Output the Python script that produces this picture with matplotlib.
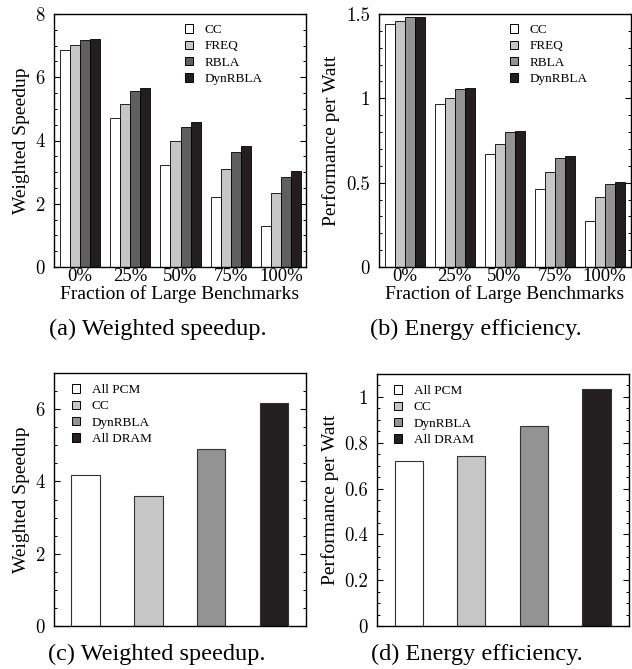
import matplotlib
matplotlib.use("Agg")
import matplotlib.pyplot as plt
import numpy as np
from matplotlib.patches import Patch
from matplotlib.ticker import MultipleLocator

plt.rcParams['font.family'] = ['Liberation Serif', 'DejaVu Serif']

# ---- data ----
fractions = ['0%', '25%', '50%', '75%', '100%']
schemes_top = ['CC', 'FREQ', 'RBLA', 'DynRBLA']
ws_cc = [6.86, 4.70, 3.24, 2.22, 1.31]
ws_freq = [7.02, 5.16, 3.99, 3.10, 2.35]
ws_rbla = [7.19, 5.56, 4.44, 3.65, 2.84]
ws_dyn = [7.22, 5.66, 4.57, 3.83, 3.03]

ppw_cc = [1.441, 0.964, 0.667, 0.461, 0.275]
ppw_freq = [1.457, 1.003, 0.732, 0.562, 0.414]
ppw_rbla = [1.480, 1.055, 0.803, 0.645, 0.495]
ppw_dyn = [1.484, 1.061, 0.807, 0.657, 0.505]

configs = ['All PCM', 'CC', 'DynRBLA', 'All DRAM']
ws_configs = [4.18, 3.60, 4.90, 6.18]
ppw_configs = [0.722, 0.741, 0.873, 1.035]

captions = ['(a) Weighted speedup.', '(b) Energy efficiency.',
            '(c) Weighted speedup.', '(d) Energy efficiency.']

# ---- style ----
W, H = 632, 669
fig = plt.figure(figsize=(W / 100, H / 100), dpi=100)

def ax_rect(l, r, t, b):
    return [l / W, (H - b) / H, (r - l) / W, (b - t) / H]

white = '#ffffff'
light = '#c6c6c6'
dark_a = '#5f5f5f'
mid = '#939393'
black = '#231f20'

YTICK_FS = 13.5
XTICK_FS = 13.5
LABEL_FS = 14
LEG_FS = 9.5
CAP_FS = 17.5

def style_axes(ax, ymax, major, minor, fmt):
    ax.set_ylim(0, ymax)
    ax.yaxis.set_minor_locator(MultipleLocator(minor))
    ax.tick_params(axis='y', which='both', direction='in', left=True, right=True,
                   labelsize=YTICK_FS, pad=6.5)
    ax.tick_params(axis='y', which='major', length=4, width=0.8)
    ax.tick_params(axis='y', which='minor', length=2.5, width=0.7)
    ax.tick_params(axis='x', which='both', length=0, labelsize=XTICK_FS, pad=1)
    ticks = [t for t in np.arange(0, ymax + 1e-9, major)]
    ax.set_yticks(ticks)
    ax.set_yticklabels([fmt(t) for t in ticks], fontfamily='cmr10')
    for s in ax.spines.values():
        s.set_linewidth(1.0)

def fmt_int(t):
    return '%d' % round(t)

def fmt_half(t):
    return ('%d' % round(t)) if abs(t - round(t)) < 1e-9 else ('%.1f' % t)

def legend(ax, labels, colors, x, y):
    handles = [Patch(facecolor=c, edgecolor='black', linewidth=0.7) for c in colors]
    ax.legend(handles, labels, loc='upper left', bbox_to_anchor=(x, y),
              frameon=False, fontsize=LEG_FS, handlelength=0.6, handleheight=0.6,
              handletextpad=0.9, labelspacing=0.33, borderaxespad=0, borderpad=0)

# ---- (a) ----
ax = fig.add_axes(ax_rect(54, 306, 14, 267))
x = np.arange(len(fractions))
w = 0.2
series = [ws_cc, ws_freq, ws_rbla, ws_dyn]
cols = [white, light, dark_a, black]
for i, (vals, c) in enumerate(zip(series, cols)):
    ax.bar(x + (i - 1.5) * w, vals, w, color=c, edgecolor='black', linewidth=0.6)
ax.set_xlim(-0.51, 4.49)
ax.set_xticks(x)
ax.set_xticklabels(fractions)
style_axes(ax, 8, 2, 0.5, fmt_int)
ax.set_ylabel('Weighted Speedup', fontsize=LABEL_FS, labelpad=4)
ax.set_xlabel('Fraction of Large Benchmarks', fontsize=LABEL_FS, labelpad=0)
legend(ax, schemes_top, cols, 0.52, 0.96)

# ---- (b) ----
ax = fig.add_axes(ax_rect(379, 631, 14, 267))
series = [ppw_cc, ppw_freq, ppw_rbla, ppw_dyn]
cols = [white, light, mid, black]
for i, (vals, c) in enumerate(zip(series, cols)):
    ax.bar(x + (i - 1.5) * w, vals, w, color=c, edgecolor='black', linewidth=0.6)
ax.set_xlim(-0.51, 4.53)
ax.set_xticks(x)
ax.set_xticklabels(fractions)
style_axes(ax, 1.5, 0.5, 0.1, fmt_half)
ax.set_ylabel('Performance per Watt', fontsize=LABEL_FS, labelpad=4)
ax.set_xlabel('Fraction of Large Benchmarks', fontsize=LABEL_FS, labelpad=0)
legend(ax, schemes_top, cols, 0.52, 0.96)

# ---- (c) ----
cols4 = [white, light, mid, black]
ax = fig.add_axes(ax_rect(54, 306, 373, 626))
xc = np.arange(len(configs))
ax.bar(xc, ws_configs, 0.45, color=cols4, edgecolor='#333333', linewidth=0.8)
ax.set_xlim(-0.5, 3.505)
ax.set_xticks([])
style_axes(ax, 7, 2, 0.5, fmt_int)
ax.tick_params(axis='x', which='both', bottom=False, labelbottom=False)
ax.set_ylabel('Weighted Speedup', fontsize=LABEL_FS, labelpad=4)
legend(ax, configs, cols4, 0.071, 0.956)

# ---- (d) ----
ax = fig.add_axes(ax_rect(377, 629, 374, 626))
ax.bar(xc, ppw_configs, 0.45, color=cols4, edgecolor='#333333', linewidth=0.8)
ax.set_xlim(-0.505, 3.52)
ax.set_xticks([])
style_axes(ax, 1.1, 0.2, 0.05, fmt_half)
ax.tick_params(axis='x', which='both', bottom=False, labelbottom=False)
ax.set_ylabel('Performance per Watt', fontsize=LABEL_FS, labelpad=4)
legend(ax, configs, cols4, 0.067, 0.956)

# ---- captions ----
cap_pos = [(158, 329), (476, 329), (157, 654), (477, 654)]
for txt, (cx, cy) in zip(captions, cap_pos):
    fig.text(cx / W, 1 - cy / H, txt, ha='center', va='center', fontsize=CAP_FS)

fig.savefig('out.png', dpi=100)
